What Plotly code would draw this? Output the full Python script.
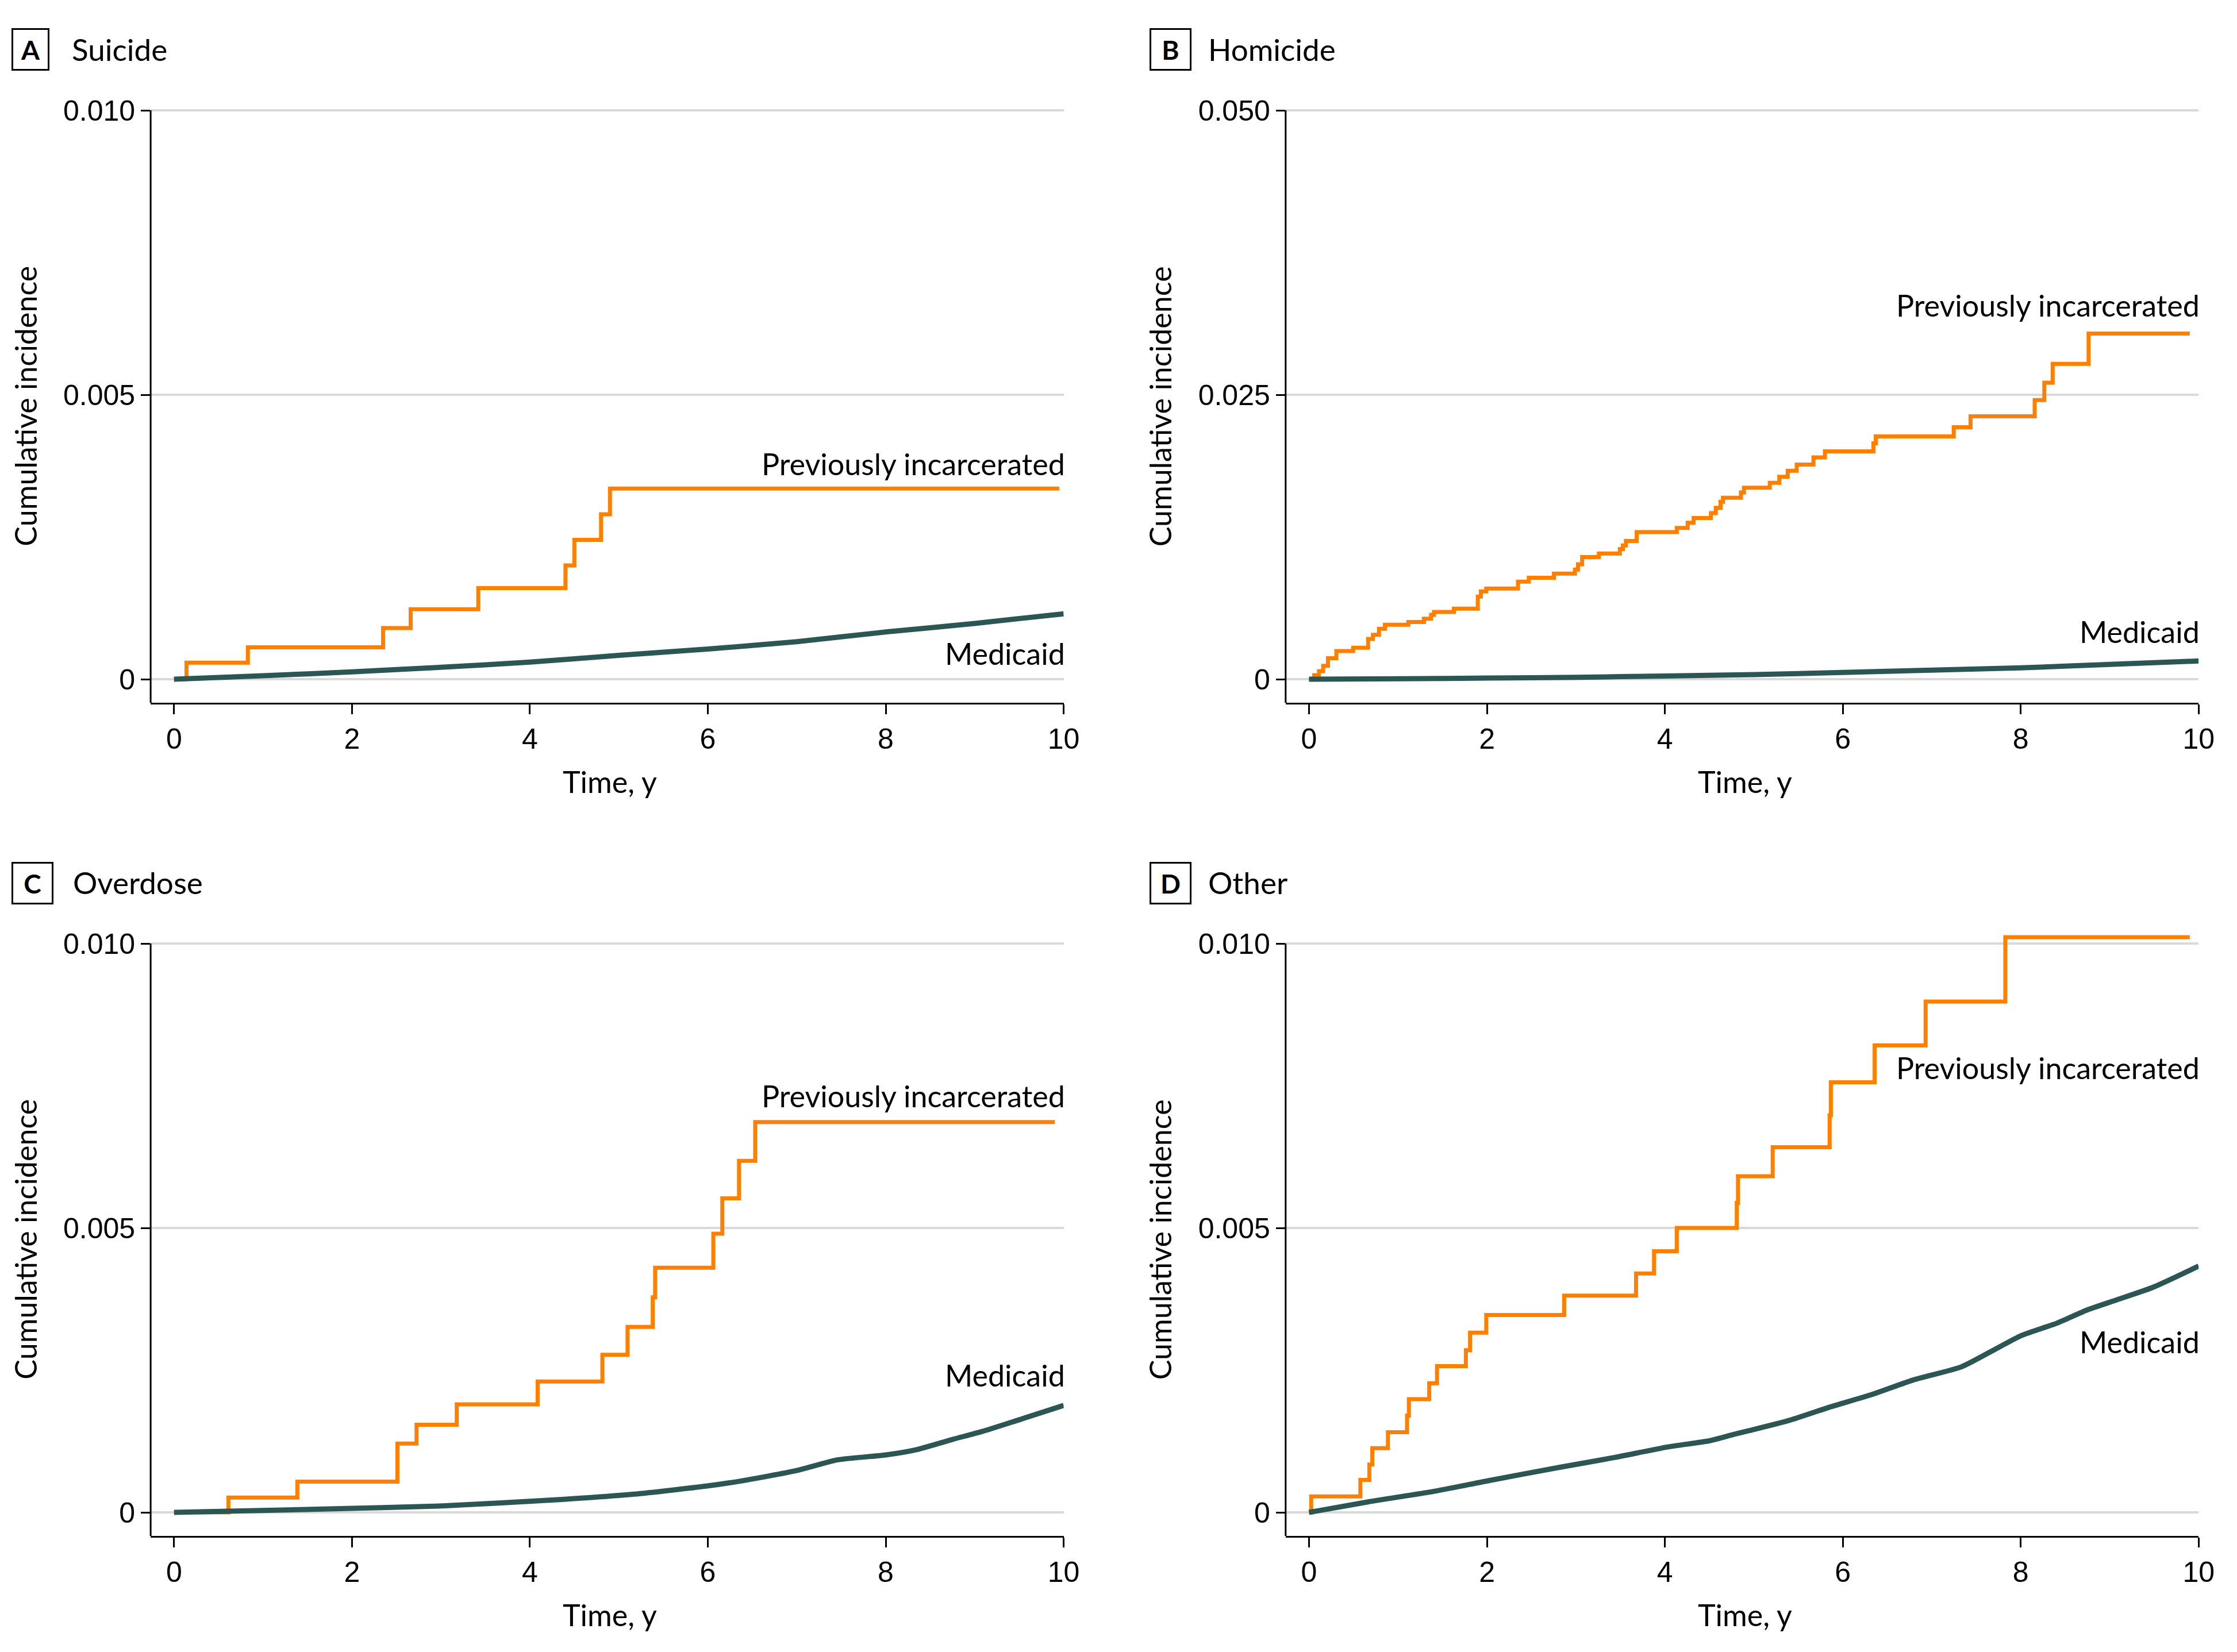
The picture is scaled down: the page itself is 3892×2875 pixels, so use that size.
import plotly.graph_objects as go

W, H = 3892, 2875

# ---------------- data ----------------
panel_letters = ["A", "B", "C", "D"]
panel_titles = ["Suicide", "Homicide", "Overdose", "Other"]
y_tick_vals = [[0, 0.005, 0.010], [0, 0.025, 0.050], [0, 0.005, 0.010], [0, 0.005, 0.010]]
y_tick_text = [["0", "0.005", "0.010"], ["0", "0.025", "0.050"], ["0", "0.005", "0.010"], ["0", "0.005", "0.010"]]
x_tick_vals = [0, 2, 4, 6, 8, 10]
x_tick_text = ["0", "2", "4", "6", "8", "10"]
series_names = ["Previously incarcerated", "Medicaid"]

# Suicide
suicide_pi_t = [0, 0.14, 0.83, 2.35, 2.66, 3.42, 4.40, 4.50, 4.80, 4.90, 9.95]
suicide_pi_v = [0, 0.00029, 0.00056, 0.00090, 0.00123, 0.00160, 0.00200, 0.00245, 0.00290, 0.00335, 0.00335]
suicide_med_t = [0, 1, 2, 3, 4, 5, 6, 7, 8, 9, 10]
suicide_med_v = [0, 0.00006, 0.00013, 0.00021, 0.00030, 0.00042, 0.00053, 0.00066, 0.00083, 0.00098, 0.00115]

# Homicide
homicide_pi_t = [0, 0.058, 0.112, 0.159, 0.213, 0.307, 0.496, 0.664, 0.718, 0.786, 0.853,
                 1.116, 1.291, 1.372, 1.405, 1.628, 1.897, 1.931, 1.992, 2.349, 2.470,
                 2.753, 2.989, 3.023, 3.070, 3.258, 3.494, 3.528, 3.562, 3.683, 4.134,
                 4.256, 4.323, 4.518, 4.572, 4.626, 4.653, 4.855, 4.889, 5.179, 5.286,
                 5.381, 5.482, 5.670, 5.799, 6.344, 6.371, 7.247, 7.436, 8.157, 8.265,
                 8.359, 8.763, 9.90]
homicide_pi_v = [0, 0.00035, 0.00071, 0.00117, 0.00184, 0.00248, 0.00276, 0.00354, 0.00390, 0.00443, 0.00478,
                 0.00503, 0.00531, 0.00566, 0.00591, 0.00620, 0.00726, 0.00772, 0.00797, 0.00857, 0.00892,
                 0.00928, 0.00964, 0.01010, 0.01073, 0.01105, 0.01144, 0.01176, 0.01215, 0.01293, 0.01329,
                 0.01375, 0.01417, 0.01460, 0.01506, 0.01559, 0.01595, 0.01641, 0.01683, 0.01726, 0.01779,
                 0.01832, 0.01886, 0.01949, 0.02003, 0.02073, 0.02134, 0.02215, 0.02311, 0.02453, 0.02606,
                 0.02772, 0.03038, 0.03038]
homicide_med_t = [0, 1, 2, 3, 4, 5, 6, 7, 8, 9, 10]
homicide_med_v = [0, 0.00004, 0.00010, 0.00017, 0.00028, 0.00040, 0.00060, 0.00080, 0.00100, 0.00130, 0.00160]

# Overdose
overdose_pi_t = [0, 0.611, 1.386, 2.511, 2.726, 3.178, 4.087, 4.815, 5.098, 5.381, 5.408,
                 6.062, 6.163, 6.351, 6.533, 9.90]
overdose_pi_v = [0, 0.00026, 0.00054, 0.00121, 0.00154, 0.00190, 0.00230, 0.00277, 0.00326, 0.00378, 0.00430,
                 0.00490, 0.00552, 0.00618, 0.00686, 0.00686]
overdose_med_t = [0, 1.669, 3.016, 4.364, 5.172, 5.981, 6.385, 6.992, 7.463, 8.002, 8.339, 8.744, 9.080, 9.485, 10]
overdose_med_v = [0, 0.000057, 0.000114, 0.000228, 0.00032, 0.000462, 0.000555, 0.000733, 0.000925, 0.00101,
                  0.00110, 0.00128, 0.00142, 0.00162, 0.00188]

# Other
other_pi_t = [0, 0.024, 0.577, 0.678, 0.711, 0.887, 1.102, 1.122, 1.351, 1.439, 1.763, 1.810, 1.992,
              2.868, 3.676, 3.878, 4.134, 4.808, 4.822, 5.212, 5.852, 5.866, 6.358, 6.931, 7.827, 9.90]
other_pi_v = [0, 0.00028, 0.00057, 0.00084, 0.00113, 0.00141, 0.00170, 0.00199, 0.00227, 0.00257, 0.00285,
              0.00316, 0.00347, 0.00381, 0.00420, 0.00459, 0.00500, 0.00544, 0.00591, 0.00642, 0.00698,
              0.00756, 0.00821, 0.00898, 0.01011, 0.01011]
other_med_t = [0, 0.664, 1.405, 2.012, 2.820, 3.427, 4.033, 4.505, 4.774, 5.381, 5.852, 6.324, 6.796,
               7.335, 7.739, 8.009, 8.413, 8.750, 9.087, 9.491, 10]
other_med_v = [0, 0.000185, 0.00037, 0.000556, 0.000793, 0.000963, 0.00115, 0.00126, 0.00137, 0.00161,
               0.00185, 0.00207, 0.00233, 0.00256, 0.00289, 0.00311, 0.00333, 0.00356, 0.00374, 0.00396, 0.00433]

pi_t = [suicide_pi_t, homicide_pi_t, overdose_pi_t, other_pi_t]
pi_v = [suicide_pi_v, homicide_pi_v, overdose_pi_v, other_pi_v]
med_t = [suicide_med_t, homicide_med_t, overdose_med_t, other_med_t]
med_v = [suicide_med_v, homicide_med_v, overdose_med_v, other_med_v]

# label anchor positions (data coords)
pi_label_y = [0.00379, 0.0329, 0.00732, 0.00782]
med_label_y = [0.000455, 0.00419, 0.00241, 0.00300]

# ---------------- styling ----------------
ORANGE = "#FF8000"
TEAL = "#2B5653"
GRID = "#D9D9D9"
NARROW = "Lato, Roboto, Liberation Sans, sans-serif"
TICKFONT = "Liberation Sans, Arial, sans-serif"
LABEL_SIZE = 52

col_axis_px = [264, 2253]     # y-axis line x
row_zero_px = [1182, 2632]    # y = 0 pixel
PX_H = 990                    # pixels from 0 to top tick
X_LO = -0.263

fig = go.Figure()
annotations = []
shapes = []

for i in range(4):
    r, c = divmod(i, 2)
    n = "" if i == 0 else str(i + 1)
    top = y_tick_vals[i][-1]
    lo, hi = -0.0414 * top, 1.03 * top
    ax_l = col_axis_px[c]
    ax_r = ax_l + 1600
    z = row_zero_px[r]
    dom_bottom = z + 41
    dom_top = z - PX_H * 1.03

    fig.add_trace(go.Scatter(x=pi_t[i], y=pi_v[i], mode="lines", line=dict(color=ORANGE, width=7, shape="hv"),
                             xaxis="x" + n, yaxis="y" + n, showlegend=False, name=series_names[0]))
    fig.add_trace(go.Scatter(x=med_t[i], y=med_v[i], mode="lines",
                             line=dict(color=TEAL, width=9, shape="spline", smoothing=0.6),
                             xaxis="x" + n, yaxis="y" + n, showlegend=False, name=series_names[1]))

    fig.update_layout(**{
        "xaxis" + n: dict(domain=[ax_l / W, ax_r / W], anchor="y" + n, range=[X_LO, 10],
                          tickvals=x_tick_vals, ticktext=x_tick_text, ticks="outside", ticklen=17,
                          tickwidth=3, tickcolor="black", showline=True, linecolor="black", linewidth=3,
                          showgrid=False, zeroline=False,
                          tickfont=dict(family=TICKFONT, size=50, color="black")),
        "yaxis" + n: dict(domain=[1 - dom_bottom / H, 1 - dom_top / H], anchor="x" + n, range=[lo, hi],
                          tickvals=y_tick_vals[i], ticktext=y_tick_text[i], ticks="outside", ticklen=16,
                          tickwidth=3, tickcolor="black", showline=False,
                          showgrid=True, gridcolor=GRID, gridwidth=4, zeroline=False,
                          tickfont=dict(family=TICKFONT, size=50, color="black")),
    })
    # y-axis line from bottom of range to top tick
    shapes.append(dict(type="line", xref="x" + n + " domain", yref="y" + n, x0=0, x1=0, y0=lo, y1=top,
                       line=dict(color="black", width=3), layer="above"))

    # panel letter box + title
    box_w = [63, 70, 70, 70][i]
    box_l = [22, 2016, 22, 2016][i]
    box_cy = [86.5, 86.5, 1536.5, 1536.5][i]
    title_x = [124, 2115, 126, 2115][i]
    annotations.append(dict(text="<b>" + panel_letters[i] + "</b>", xref="paper", yref="paper",
                            x=(box_l + box_w / 2) / W, y=1 - box_cy / H, xanchor="center", yanchor="middle",
                            showarrow=False, width=box_w - 3, height=68, borderwidth=3, borderpad=0,
                            bordercolor="black", font=dict(family=NARROW, size=46, color="black")))
    annotations.append(dict(text=panel_titles[i], xref="paper", yref="paper",
                            x=title_x / W, y=1 - (box_cy - 1) / H, xanchor="left",
                            yanchor="middle", showarrow=False,
                            font=dict(family=NARROW, size=LABEL_SIZE + 1, color="black")))
    # axis titles
    annotations.append(dict(text="Cumulative incidence", xref="paper", yref="paper",
                            x=(44 + c * 1989) / W, y=1 - (z - 475) / H, textangle=-90,
                            xanchor="center", yanchor="middle", showarrow=False,
                            font=dict(family=NARROW, size=LABEL_SIZE, color="black")))
    annotations.append(dict(text="Time, y", xref="paper", yref="paper",
                            x=(ax_l + 805) / W, y=1 - (z + 178) / H, xanchor="center", yanchor="middle",
                            showarrow=False, font=dict(family=NARROW, size=LABEL_SIZE, color="black")))
    # series labels
    annotations.append(dict(text=series_names[0], xref="x" + n, yref="y" + n, x=10, y=pi_label_y[i],
                            xanchor="right", yanchor="middle", showarrow=False, xshift=4,
                            font=dict(family=NARROW, size=LABEL_SIZE, color="black")))
    annotations.append(dict(text=series_names[1], xref="x" + n, yref="y" + n, x=10, y=med_label_y[i],
                            xanchor="right", yanchor="middle", showarrow=False, xshift=4,
                            font=dict(family=NARROW, size=LABEL_SIZE, color="black")))

fig.update_layout(width=W, height=H, margin=dict(l=0, r=0, t=0, b=0), paper_bgcolor="white",
                  plot_bgcolor="white", annotations=annotations, shapes=shapes, showlegend=False)

fig.write_html("out.html", config={"displayModeBar": False},
               post_script="document.body.style.margin='0';")
